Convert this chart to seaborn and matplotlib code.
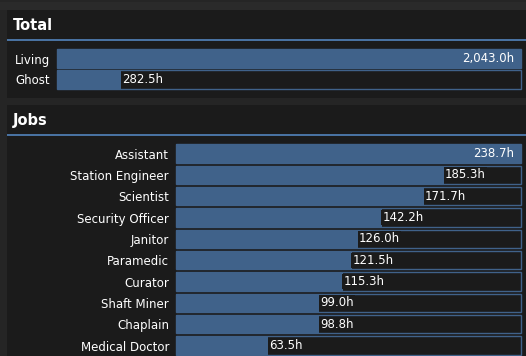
import matplotlib
matplotlib.use("Agg")
import matplotlib.pyplot as plt
import matplotlib.patches as mpatches
import seaborn as sns

# -----------------------------
# Data
# -----------------------------
total_labels = ["Living", "Ghost"]
total_hours = [2043.0, 282.5]

job_labels = ["Assistant", "Station Engineer", "Scientist", "Security Officer",
              "Janitor", "Paramedic", "Curator", "Shaft Miner", "Chaplain",
              "Medical Doctor"]
job_hours = [238.7, 185.3, 171.7, 142.2, 126.0, 121.5, 115.3, 99.0, 98.8, 63.5]

# -----------------------------
# Colours / sizes
# -----------------------------
W, H = 526, 356
BG = "#252525"
PANEL = "#1b1b1b"
BLUE = "#40628a"
LINE = "#4972a1"
TEXT = "#ffffff"

sns.set_theme(style="dark")
plt.rcParams["font.family"] = ["DejaVu Sans"]

fig = plt.figure(figsize=(W / 100, H / 100), dpi=100, facecolor=BG)


def fig_rect(x0, y0, x1, y1):
    # pixel box -> figure fraction [left, bottom, width, height]
    return [x0 / W, 1 - y1 / H, (x1 - x0) / W, (y1 - y0) / H]


# background layer in pixel coords
bg = fig.add_axes([0, 0, 1, 1])
bg.set_xlim(0, W)
bg.set_ylim(H, 0)
bg.axis("off")
bg.add_patch(mpatches.Rectangle((0, 2), W, 8, color="#2a2a2a", lw=0))
for top, bottom, title, line_y in [(10, 98, "Total", 40), (105, 356, "Jobs", 135)]:
    bg.add_patch(mpatches.Rectangle((7, top), W - 7, bottom - top, color=PANEL, lw=0))
    bg.add_patch(mpatches.Rectangle((7, line_y - 1), W - 7, 2.2, color=LINE, lw=0))
    bg.text(13, top + 15, title, color=TEXT, fontsize=10.5, fontweight="bold",
            va="center", ha="left")


def bar_block(box, labels, values):
    ax = fig.add_axes(fig_rect(*box))
    vmax = max(values)
    n = len(values)
    # track (outlined full-width bar)
    sns.barplot(x=[vmax] * n, y=labels, orient="h", ax=ax,
                color=PANEL, linewidth=1.0, width=0.86, saturation=1)
    # filled value bar
    sns.barplot(x=values, y=labels, orient="h", ax=ax, color=BLUE,
                linewidth=0, width=0.86, saturation=1)
    for k, p in enumerate(ax.patches):
        p.set_clip_on(False)
        p.set_snap(True)
        if k < n:
            p.set_edgecolor(BLUE)
            p.set_facecolor(PANEL)
            p.set_linewidth(1.0)
    ax.set_xlim(0, vmax)
    ax.set_ylim(n - 0.5, -0.5)
    ax.set_facecolor("none")
    ax.set_xlabel("")
    ax.set_ylabel("")
    ax.set_xticks([])
    for s in ax.spines.values():
        s.set_visible(False)
    ax.tick_params(axis="y", length=0, pad=5, labelsize=8.5, labelcolor=TEXT)
    for i, v in enumerate(values):
        txt = f"{v:,.1f}h"
        if v / vmax > 0.85:
            ax.annotate(txt, (v, i), xytext=(-7, 0), textcoords="offset pixels",
                        ha="right", va="center", color=TEXT, fontsize=8.5)
        else:
            ax.annotate(txt, (v, i), xytext=(1, 0), textcoords="offset pixels",
                        ha="left", va="center", color=TEXT, fontsize=8.5,
                        bbox=dict(boxstyle="square,pad=0.1", fc=PANEL, ec="none"))
    return ax


bar_block((57, 48, 521, 90), total_labels, total_hours)
bar_block((176, 143, 521, 143 + 21.33 * len(job_hours)), job_labels, job_hours)

plt.savefig("out.png", dpi=100, facecolor=BG)
